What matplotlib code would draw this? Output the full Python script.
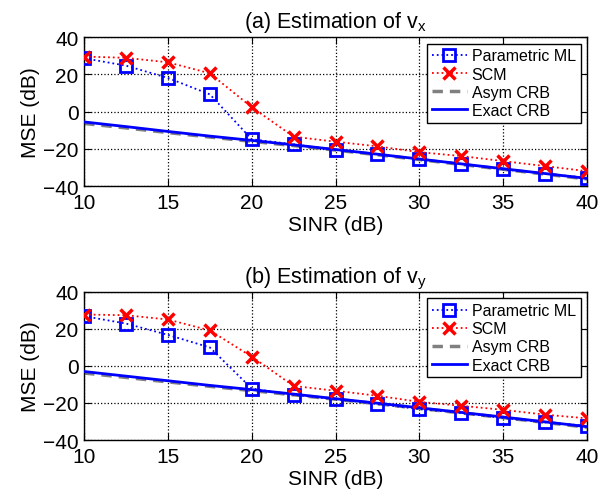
import numpy as np
import matplotlib
matplotlib.use("Agg")
import matplotlib.pyplot as plt

plt.rcParams["font.family"] = ["Liberation Sans", "DejaVu Sans"]
plt.rcParams["mathtext.fontset"] = "custom"
plt.rcParams["mathtext.rm"] = "Liberation Sans"
plt.rcParams["mathtext.it"] = "Liberation Sans"

sinr = [10, 12.5, 15, 17.5, 20, 22.5, 25, 27.5, 30, 32.5, 35, 37.5, 40]

# (a) v_x
ml_x = [28.7, 24.7, 18.1, 9.3, -14.8, -17.5, -20.6, -22.9, -25.6, -28.0, -31.0, -33.2, -35.5]
scm_x = [29.6, 28.9, 26.5, 20.6, 2.4, -13.4, -16.1, -18.6, -21.7, -23.8, -26.5, -29.2, -31.9]
exact_x = [-5.5, -8.0, -10.6, -13.1, -15.4, -17.8, -20.3, -22.8, -25.4, -28.0, -30.6, -33.2, -35.8]
asym_x = [-6.3, -8.7, -11.2, -13.6, -15.9, -18.2, -20.6, -23.1, -25.7, -28.3, -30.9, -33.5, -36.1]

# (b) v_y
ml_y = [26.9, 22.9, 16.8, 10.0, -12.2, -15.6, -17.9, -20.6, -23.3, -25.4, -28.1, -30.5, -32.3]
scm_y = [27.8, 27.4, 25.1, 19.2, 5.0, -10.8, -13.4, -16.1, -19.4, -21.5, -23.7, -26.3, -28.3]
exact_y = [-3.0, -5.5, -8.0, -10.5, -12.8, -15.2, -17.7, -20.1, -22.6, -25.1, -27.6, -30.2, -32.8]
asym_y = [-3.8, -6.2, -8.6, -11.0, -13.3, -15.6, -18.0, -20.4, -22.9, -25.4, -27.9, -30.5, -33.1]

titles = ["(a) Estimation of $\\mathregular{v_x}$", "(b) Estimation of $\\mathregular{v_y}$"]

fig = plt.figure(figsize=(6.14, 5.02), dpi=100)
ax1 = fig.add_axes([0.137, 0.627, 0.819, 0.297])
ax2 = fig.add_axes([0.137, 0.1215, 0.819, 0.295])

for ax, title, ml, scm, asym, exact in [
    (ax1, titles[0], ml_x, scm_x, asym_x, exact_x),
    (ax2, titles[1], ml_y, scm_y, asym_y, exact_y),
]:
    ax.plot(sinr, ml, ls=":", color="#0000ff", lw=1.3, marker="s", ms=8,
            mfc="none", mec="#0000ff", mew=2, label="Parametric ML", zorder=4)
    ax.plot(sinr, scm, ls=":", color="#ff0000", lw=1.3, marker="x", ms=9,
            mec="#ff0000", mew=2.5, label="SCM", zorder=5)
    ax.plot(sinr, asym, ls="--", color="#808080", lw=2.5, dashes=(3, 2),
            label="Asym CRB", zorder=2)
    ax.plot(sinr, exact, ls="-", color="#0000ff", lw=2, label="Exact CRB", zorder=3)

    ax.set_xlim(10, 40)
    ax.set_ylim(-40, 40)
    ax.set_xticks([10, 15, 20, 25, 30, 35, 40])
    ax.set_yticks([-40, -20, 0, 20, 40])
    ax.grid(True, ls=":", color="black", lw=0.9)
    ax.tick_params(direction="in", top=True, right=True, labelsize=15, length=5)
    ax.tick_params(axis="x", pad=5)
    ax.tick_params(axis="y", pad=4)
    for s in ax.spines.values():
        s.set_linewidth(1.0)
    ax.set_xlabel("SINR (dB)", fontsize=15, labelpad=2)
    ax.set_ylabel("MSE (dB)", fontsize=15, labelpad=2)
    ax.set_title(title, fontsize=15.5, pad=7)
    leg = ax.legend(loc="upper right", fontsize=11.5, fancybox=False,
                    framealpha=1, edgecolor="black", handlelength=2.2,
                    borderpad=0.3, labelspacing=0.2, handletextpad=0.3,
                    borderaxespad=0.4)
    leg.get_frame().set_linewidth(1.0)

fig.savefig("out.png", dpi=100)
